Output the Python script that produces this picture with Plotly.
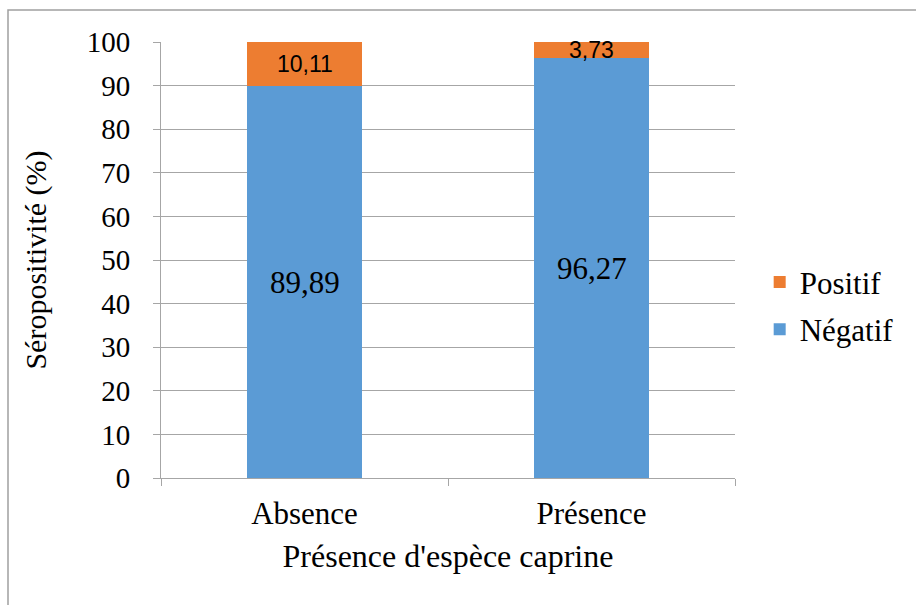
import plotly.graph_objects as go

categories = ["Absence", "Présence"]
negatif = [89.89, 96.27]
positif = [10.11, 3.73]
neg_labels = ["89,89", "96,27"]
pos_labels = ["10,11", "3,73"]
y_ticks = [0, 10, 20, 30, 40, 50, 60, 70, 80, 90, 100]

BLUE = "#5B9BD5"
ORANGE = "#ED7D31"
GRID = "#A6A6A6"
SERIF = "Liberation Serif, Times New Roman, serif"
SANS = "Liberation Sans, Arial, sans-serif"

fig = go.Figure()
fig.add_trace(go.Bar(x=categories, y=negatif, name="Négatif", marker_color=BLUE,
                     marker_line_width=0, legendgroup="n", legendrank=2))
fig.add_trace(go.Bar(x=categories, y=positif, base=negatif, name="Positif", marker_color=ORANGE,
                     marker_line_width=0, legendgroup="p", legendrank=1))

for c, n, p, nl, pl in zip(categories, negatif, positif, neg_labels, pos_labels):
    fig.add_annotation(x=c, y=n / 2, text=nl, showarrow=False,
                       font=dict(family=SERIF, size=31, color="black"))
    fig.add_annotation(x=c, y=n + p / 2, text=pl, showarrow=False,
                       font=dict(family=SANS, size=23, color="black"))

fig.add_shape(type="rect", xref="paper", yref="paper",
              x0=(8 - 161) / 574, x1=2, y0=-2, y1=1 + (42 - 10) / 436,
              line=dict(color="#A0A0A0", width=1.5), layer="below")

fig.update_layout(
    width=916, height=605,
    margin=dict(l=161, r=181, t=42, b=127),
    paper_bgcolor="white", plot_bgcolor="white",
    barmode="stack", bargap=0.6,
    font=dict(family=SERIF, size=29, color="black"),
    legend=dict(x=1.043, y=0.395, xanchor="left", yanchor="middle",
                traceorder="grouped", tracegroupgap=4,
                font=dict(family=SERIF, size=31), itemwidth=30),
    xaxis=dict(showline=True, linecolor=GRID, linewidth=1, ticks="outside",
               tickcolor=GRID, ticklen=7, tickson="boundaries",
               tickfont=dict(family=SERIF, size=31), ticklabelstandoff=8,
               title=dict(text="Présence d'espèce caprine", standoff=14,
                          font=dict(family=SERIF, size=32))),
    yaxis=dict(range=[0, 100], tickvals=y_ticks, showgrid=True, gridcolor=GRID,
               gridwidth=1, showline=True, linecolor=GRID, linewidth=1,
               ticks="outside", tickcolor=GRID, ticklen=7, zeroline=False,
               tickfont=dict(family=SERIF, size=29), ticklabelstandoff=17,
               title=dict(text="Séropositivité (%)", standoff=31,
                          font=dict(family=SERIF, size=30))),
)

fig.write_html("out.html")
